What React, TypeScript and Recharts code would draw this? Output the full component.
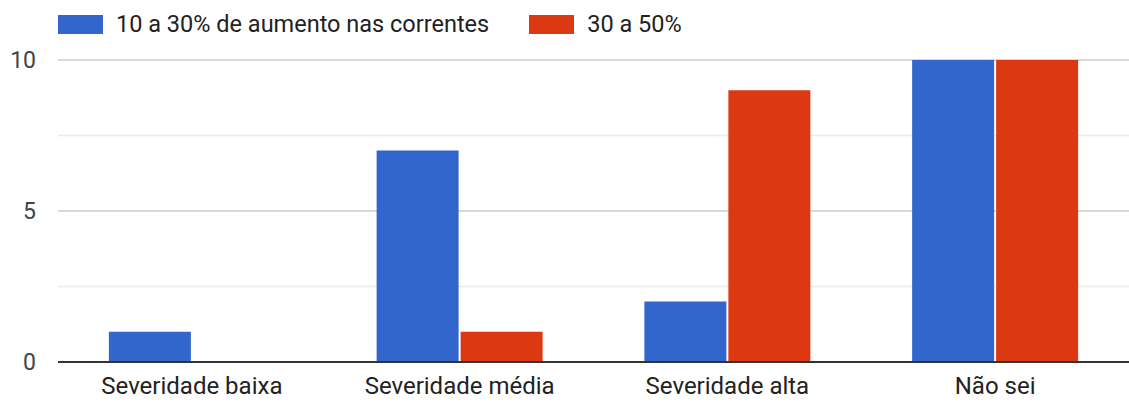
import React from 'react';
import { BarChart, Bar, XAxis, YAxis, CartesianGrid } from 'recharts';

const categories = ['Severidade baixa', 'Severidade média', 'Severidade alta', 'Não sei'];
const series1 = [1, 7, 2, 10];
const series2 = [0, 1, 9, 10];
const seriesNames = ['10 a 30% de aumento nas correntes', '30 a 50%'];
const seriesColors = ['#3366cc', '#dc3912'];
const yTicks = [0, 2.5, 5, 7.5, 10];

const data = categories.map((c, i) => ({ name: c, s1: series1[i], s2: series2[i] }));

const FONT = 'Roboto, Arial, sans-serif';

const GridLine = (props: any) => {
  const { x1, x2, y1, y2, index } = props;
  const minor = index % 2 === 1;
  return (
    <line x1={x1} x2={x2} y1={y1} y2={y2} stroke={minor ? '#ebebeb' : '#cccccc'} strokeWidth={1.5} />
  );
};

export default function App() {
  return (
    <div style={{ position: 'absolute', left: 0, top: 0, width: 1129, height: 403, background: '#fff' }}>
      <div
        style={{
          position: 'absolute',
          left: 58,
          top: 10,
          display: 'flex',
          alignItems: 'center',
          fontFamily: FONT,
          fontSize: 23.5,
          color: '#222',
          whiteSpace: 'nowrap',
        }}
      >
        {seriesNames.map((n, i) => (
          <div key={n} style={{ display: 'flex', alignItems: 'center', marginRight: 40 }}>
            <div style={{ width: 45, height: 19, background: seriesColors[i], marginRight: 13 }} />
            <span>{n}</span>
          </div>
        ))}
      </div>
      <BarChart
        width={1129}
        height={403}
        data={data}
        margin={{ top: 60, right: 0, left: 0, bottom: 0 }}
        barCategoryGap="19%"
        barGap={2}
      >
        <CartesianGrid vertical={false} horizontal={<GridLine />} />
        <XAxis
          dataKey="name"
          height={41}
          tickLine={false}
          axisLine={{ stroke: '#333', strokeWidth: 2 }}
          tick={{ fill: '#222', fontSize: 24, fontFamily: FONT }}
          tickMargin={9}
        />
        <YAxis
          width={58}
          domain={[0, 10]}
          ticks={yTicks}
          interval={0}
          tickFormatter={(v: number) => (Number.isInteger(v) && v % 5 === 0 ? String(v) : '')}
          axisLine={false}
          tickLine={false}
          tickMargin={16}
          tick={{ fill: '#444', fontSize: 23, fontFamily: FONT }}
        />
        <Bar dataKey="s1" name={seriesNames[0]} fill={seriesColors[0]} isAnimationActive={false} />
        <Bar dataKey="s2" name={seriesNames[1]} fill={seriesColors[1]} isAnimationActive={false} />
      </BarChart>
    </div>
  );
}
